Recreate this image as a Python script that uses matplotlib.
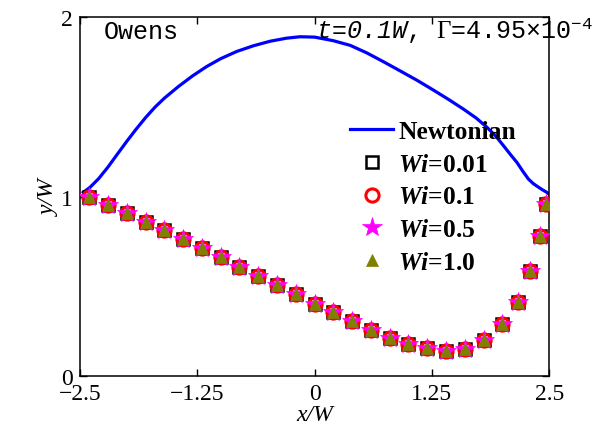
import matplotlib
matplotlib.use("Agg")
import matplotlib.pyplot as plt

plt.rcParams['font.family'] = ['Liberation Serif', 'DejaVu Serif']
plt.rcParams['mathtext.fontset'] = 'custom'
plt.rcParams['mathtext.it'] = 'Liberation Serif:italic:bold'
plt.rcParams['mathtext.rm'] = 'Liberation Mono'
plt.rcParams['mathtext.sf'] = 'Liberation Mono:italic'
plt.rcParams['mathtext.cal'] = 'Liberation Serif'

# Newtonian interface
x_newt = [-2.465, -2.393, -2.3, -2.2, -2.1, -2.0, -1.9, -1.8, -1.7, -1.6,
          -1.45, -1.3, -1.15, -1.0, -0.83, -0.65, -0.474, -0.3, -0.155, 0.0,
          0.2, 0.38, 0.557, 0.73, 0.911, 1.09, 1.266, 1.43, 1.586, 1.72,
          1.836, 1.93, 2.013, 2.09, 2.156, 2.22, 2.279, 2.33, 2.369, 2.42,
          2.475, 2.5]
y_newt = [1.023, 1.051, 1.100, 1.165, 1.237, 1.308, 1.376, 1.440, 1.498, 1.548,
          1.613, 1.672, 1.724, 1.768, 1.808, 1.840, 1.865, 1.882, 1.890, 1.888,
          1.868, 1.842, 1.800, 1.752, 1.700, 1.648, 1.593, 1.540, 1.487, 1.438,
          1.386, 1.337, 1.283, 1.232, 1.190, 1.140, 1.097, 1.072, 1.058, 1.040,
          1.023, 1.012]

# viscoelastic interfaces (Owens model)
x_wi = [-2.4, -2.2, -2.0, -1.8, -1.6, -1.4, -1.2, -1.0, -0.8, -0.6, -0.4, -0.2, 0.0,
        0.2, 0.4, 0.6, 0.8, 1.0, 1.2, 1.4, 1.6, 1.8, 2.0, 2.17, 2.3, 2.4, 2.47]
y_wi001 = [0.996, 0.953, 0.906, 0.856, 0.813, 0.763, 0.711, 0.661, 0.609, 0.558, 0.507,
           0.457, 0.401, 0.355, 0.305, 0.256, 0.212, 0.178, 0.155, 0.141, 0.150, 0.201,
           0.290, 0.414, 0.587, 0.778, 0.958]
y_wi01 = [0.996, 0.953, 0.906, 0.856, 0.813, 0.763, 0.711, 0.661, 0.609, 0.558, 0.507,
          0.457, 0.401, 0.355, 0.305, 0.256, 0.212, 0.178, 0.155, 0.141, 0.150, 0.201,
          0.290, 0.414, 0.587, 0.778, 0.958]
y_wi05 = [0.996, 0.953, 0.906, 0.856, 0.813, 0.763, 0.711, 0.661, 0.609, 0.558, 0.507,
          0.457, 0.401, 0.355, 0.305, 0.256, 0.212, 0.178, 0.155, 0.141, 0.150, 0.201,
          0.290, 0.414, 0.587, 0.778, 0.958]
y_wi10 = [0.996, 0.953, 0.906, 0.856, 0.813, 0.763, 0.711, 0.661, 0.609, 0.558, 0.507,
          0.457, 0.401, 0.355, 0.305, 0.256, 0.212, 0.178, 0.155, 0.141, 0.150, 0.201,
          0.290, 0.414, 0.587, 0.778, 0.958]

xticks = [-2.5, -1.25, 0, 1.25, 2.5]
xticklabels = ['\u22122.5', '\u22121.25', '0', '1.25', '2.5']
yticks = [0, 1, 2]
yticklabels = ['0', '1', '2']

fig = plt.figure(figsize=(6.15, 4.35), dpi=100)
ax = fig.add_axes([0.130, 0.1333, 0.763, 0.8253])

ax.plot(x_newt, y_newt, color='blue', lw=2.3, label='Newtonian', zorder=2)
ax.plot(x_wi, y_wi001, ls='none', marker='s', ms=9, mfc='none', mec='black', mew=1.8,
        label=r'$Wi$=0.01', zorder=3)
ax.plot(x_wi, y_wi01, ls='none', marker='o', ms=9.5, mfc='none', mec='red', mew=2.2,
        label=r'$Wi$=0.1', zorder=4)
ax.plot(x_wi, y_wi05, ls='none', marker='*', ms=15, mfc='magenta', mec='magenta', mew=0.5,
        label=r'$Wi$=0.5', zorder=5)
ax.plot(x_wi, y_wi10, ls='none', marker='^', ms=9, mfc='olive', mec='olive', mew=0.5,
        label=r'$Wi$=1.0', zorder=6)

ax.set_xlim(-2.5, 2.5)
ax.set_ylim(0, 2)
ax.set_xticks(xticks)
ax.set_xticklabels(xticklabels)
ax.set_yticks(yticks)
ax.set_yticklabels(yticklabels)
ax.tick_params(direction='in', top=True, right=True, length=5, width=1,
               labelsize=17, pad=5)
for sp in ax.spines.values():
    sp.set_linewidth(1.1)

ax.set_xlabel('x/W', fontsize=17, fontstyle='italic', labelpad=0)
ax.set_ylabel('y/W', fontsize=17, fontstyle='italic', labelpad=1)

ax.text(0.051, 0.9415, 'Owens', transform=ax.transAxes, fontsize=18,
        family='Liberation Mono', va='baseline')
ax.text(0.503, 0.9415, r'$\mathsf{t}$=$\mathsf{0.1W}$, $\mathcal{\Gamma}$=4.95×10$^{-4}$',
        transform=ax.transAxes, fontsize=18, family='Liberation Mono',
        va='baseline', clip_on=False)

leg = ax.legend(loc='upper left', bbox_to_anchor=(0.5757, 0.713), frameon=False,
                borderpad=0, borderaxespad=0, handlelength=1.68, handletextpad=0.2,
                labelspacing=0.38, prop={'family': 'Liberation Serif', 'weight': 'bold',
                                         'size': 18.4})

fig.savefig('out.png', dpi=100)
